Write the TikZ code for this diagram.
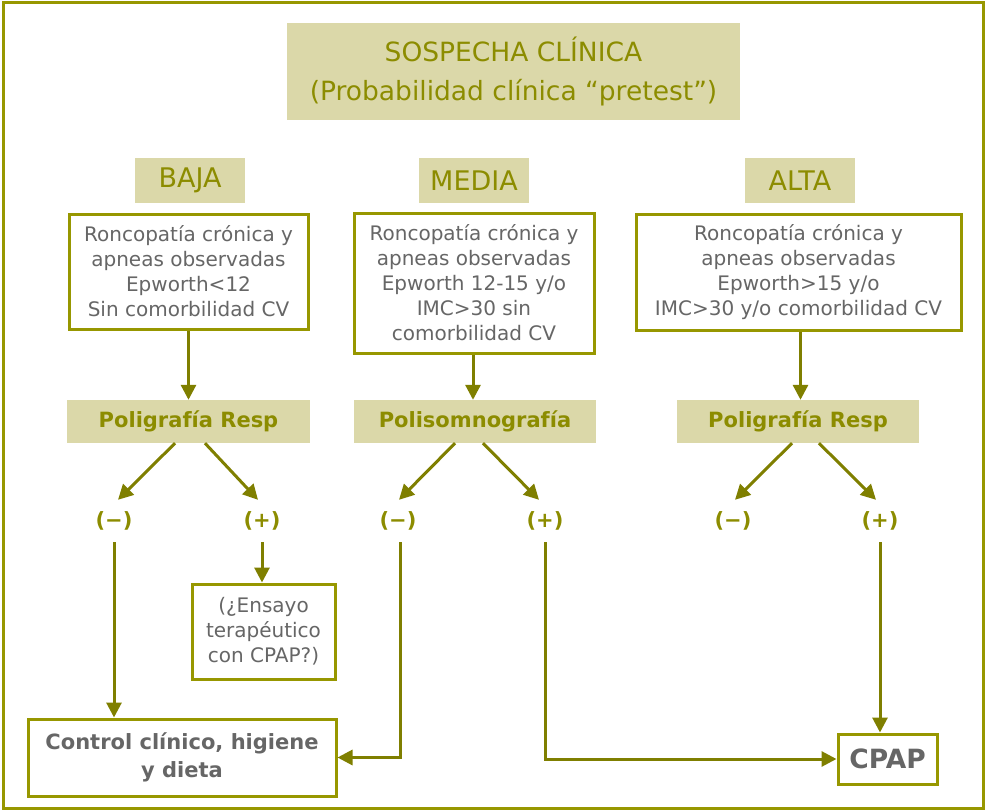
\documentclass[tikz,border=0pt]{standalone}
\usepackage{fontspec}
\setmainfont{DejaVu Sans}
\usetikzlibrary{arrows.meta}

\definecolor{olivetxt}{HTML}{8C8C00}
\definecolor{olivearr}{HTML}{7F7F00}
\definecolor{oliveline}{HTML}{979700}
\definecolor{khaki}{HTML}{DBD8A9}
\definecolor{greytxt}{HTML}{666666}

\tikzset{
  headbox/.style={fill=khaki, text=olivetxt, inner sep=0pt, align=center},
  levelbox/.style={headbox, minimum width=110pt, minimum height=45pt,
    font=\fontsize{27}{30}\selectfont},
  infobox/.style={draw=oliveline, line width=3pt, fill=white, text=greytxt,
    inner sep=0pt, align=center, font=\fontsize{20}{25}\selectfont},
  testbox/.style={headbox, font=\bfseries\fontsize{21}{24}\selectfont,
    minimum height=43pt},
  signlbl/.style={text=olivetxt, font=\bfseries\fontsize{21}{24}\selectfont,
    minimum height=42pt, inner sep=0pt},
  arr/.style={draw=olivearr, line width=3pt,
    -{Triangle[length=15pt,width=15pt]}},
}

\begin{document}
\begin{tikzpicture}[x=1pt,y=-1pt]
  \useasboundingbox (0,0) rectangle (986,811);
  % outer frame
  \draw[oliveline, line width=3pt] (3.5,2.5) rectangle (983.5,808);

  % title
  \node[headbox, minimum width=453pt, minimum height=97pt,
        font=\fontsize{26.5}{39}\selectfont] (title) at (513.5,71.5)
        {SOSPECHA CLÍNICA\\(Probabilidad clínica “pretest”)};

  % probability levels
  \node[levelbox] (baja) at (190,180.5) {BAJA};
  \node[levelbox] (media) at (474,180.5) {MEDIA};
  \node[levelbox] (alta) at (800,180.5) {ALTA};

  % clinical criteria
  \node[infobox, minimum width=239pt, minimum height=115pt] (critb) at (188.5,271.5)
    {Roncopatía crónica y\\apneas observadas\\Epworth<12\\Sin comorbilidad CV};
  \node[infobox, minimum width=240pt, minimum height=140pt] (critm) at (474,283)
    {Roncopatía crónica y\\apneas observadas\\Epworth 12-15 y/o\\IMC>30 sin\\comorbilidad CV};
  \node[infobox, minimum width=325pt, minimum height=116pt] (crita) at (798.5,272)
    {Roncopatía crónica y\\apneas observadas\\Epworth>15 y/o\\IMC>30 y/o comorbilidad CV};

  % diagnostic tests
  \node[testbox, minimum width=243pt] (testb) at (188.5,421.5) {Poligrafía Resp};
  \node[testbox, minimum width=242pt] (testm) at (475,421.5) {Polisomnografía};
  \node[testbox, minimum width=242pt] (testa) at (798,421.5) {Poligrafía Resp};

  % results
  \node[signlbl] (negb) at (114,521) {(−)};
  \node[signlbl] (posb) at (262,521) {(+)};
  \node[signlbl] (negm) at (398,521) {(−)};
  \node[signlbl] (posm) at (545,521) {(+)};
  \node[signlbl] (nega) at (733,521) {(−)};
  \node[signlbl] (posa) at (880,521) {(+)};

  % outcomes
  \node[infobox, minimum width=143pt, minimum height=95pt] (ensayo) at (263.5,631.5)
    {(¿Ensayo\\terapéutico\\con CPAP?)};
  \node[infobox, minimum width=308pt, minimum height=77pt,
        font=\bfseries\fontsize{21}{28}\selectfont] (control) at (182,757.5)
    {Control clínico, higiene\\y dieta};
  \node[infobox, minimum width=99pt, minimum height=50pt,
        font=\bfseries\fontsize{26.5}{30}\selectfont] (cpap) at (887.5,759) {CPAP};

  % criteria to tests
  \draw[arr] (critb.south) -- (critb.south |- testb.north);
  \draw[arr] ([xshift=-1pt]critm.south) -- ([xshift=-1pt]critm.south |- testm.north);
  \draw[arr] ([xshift=2pt]crita.south) -- ([xshift=2pt]crita.south |- testa.north);

  % tests to results
  \draw[arr] ([xshift=-13.5pt]testb.south) -- ([xshift=4pt]negb.north);
  \draw[arr] ([xshift=16.5pt]testb.south) -- ([xshift=-4pt]posb.north);
  \draw[arr] ([xshift=-20pt]testm.south) -- ([xshift=1pt]negm.north);
  \draw[arr] ([xshift=8pt]testm.south) -- ([xshift=-6pt]posm.north);
  \draw[arr] ([xshift=-6pt]testa.south) -- ([xshift=2pt]nega.north);
  \draw[arr] ([xshift=21pt]testa.south) -- ([xshift=-4pt]posa.north);

  % results to outcomes
  \draw[arr] (negb.south) -- (negb.south |- control.north);
  \draw[arr] (posb.south) -- (posb.south |- ensayo.north);
  \draw[arr] ([xshift=2pt]negm.south) |- (control.east);
  \draw[arr] (posm.south) |- (cpap.west);
  \draw[arr] (posa.south) -- (posa.south |- cpap.north);
\end{tikzpicture}
\end{document}
